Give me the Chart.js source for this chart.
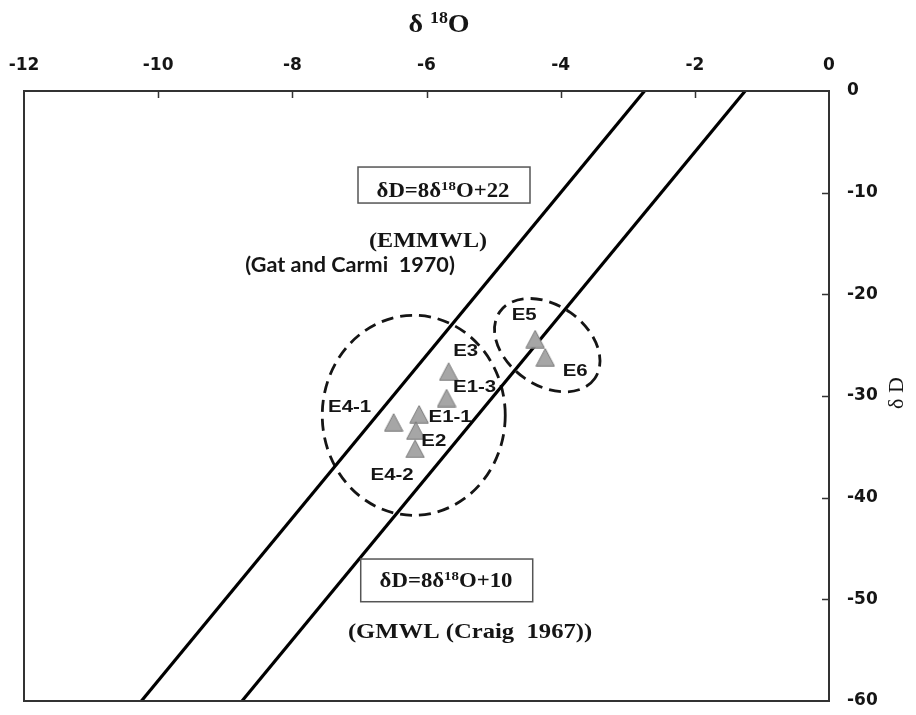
<!DOCTYPE html>
<html>
<head>
<meta charset="utf-8">
<script src="https://cdn.jsdelivr.net/npm/chart.js@4/dist/chart.umd.min.js"></script>
<style>
  html, body { margin: 0; padding: 0; background: #ffffff; }
  #wrap { width: 916px; height: 715px; }
</style>
</head>
<body>
<div id="wrap"><canvas id="chart" width="916" height="715"></canvas></div>
<script>
// Sample points: oxygen-18 and deuterium
const sampleIds = ['E1-1', 'E1-3', 'E2', 'E3', 'E4-1', 'E4-2', 'E5', 'E6'];
const d18O      = [-6.11, -5.70, -6.16, -5.67, -6.49, -6.17, -4.38, -4.23];
const dD        = [-31.8, -30.2, -33.4, -27.6, -32.6, -35.2, -24.4, -26.2];

// Meteoric water lines: dD = slope * d18O + intercept
const lineNames      = ['EMMWL', 'GMWL'];
const lineSlopes     = [8, 8];
const lineIntercepts = [22, 10];

// Axis ranges and tick steps
const xRange = [-12, 0];
const xStep  = 2;
const yRange = [-60, 0];
const yStep  = 10;

// Label placement around each point (pixels)
const labelOffsets = {
  'E1-1': [31, 3], 'E1-3': [28, -11], 'E2': [18, 11], 'E3': [17, -20],
  'E4-1': [-44, -15], 'E4-2': [-23, 26], 'E5': [-11, -23.5], 'E6': [30, 14]
};

// Dashed groupings (centre in data units, radii in pixels)
const groups = [
  { cx: -6.19, cy: -31.9, rx: 91.5, ry: 100, rot: 0 },
  { cx: -4.20, cy: -25.0, rx: 58, ry: 40, rot: 35 }
];

const INK = '#151515';

function triangleMarker() {
  const c = document.createElement('canvas');
  c.width = 20; c.height = 19;
  const g = c.getContext('2d');
  g.beginPath();
  g.moveTo(10, 0.8);
  g.lineTo(19.2, 18.2);
  g.lineTo(0.8, 18.2);
  g.closePath();
  g.fillStyle = '#a6a6a6';
  g.fill();
  g.strokeStyle = '#7a7a7a';
  g.lineWidth = 1;
  g.stroke();
  return c;
}

// draws a run of text pieces (with optional superscripts) centred at cx, baseline y, stretched horizontally
function drawRun(g, parts, cx, baseY, sx) {
  let w = 0;
  parts.forEach(p => { g.font = p.font; w += g.measureText(p.t).width; });
  g.save();
  g.translate(cx, baseY);
  g.scale(sx, 1);
  g.textBaseline = 'alphabetic';
  g.textAlign = 'left';
  let x = -w / 2;
  parts.forEach(p => {
    g.font = p.font;
    g.fillText(p.t, x, p.dy || 0);
    x += g.measureText(p.t).width;
  });
  g.restore();
  return w * sx;
}

const TB = s => 'bold ' + s + 'px "Liberation Serif", "Times New Roman", serif';

const notes = [
  { x: -5.754, y: -10.40, sx: 1.14,
    parts: [{ t: 'δD=8δ', font: TB(20) }, { t: '18', font: TB(13), dy: -7 }, { t: 'O+22', font: TB(20) }],
    box: { dx: -85, dy: -29.7, w: 172, h: 36 } },
  { x: -5.709, y: -48.76, sx: 1.14,
    parts: [{ t: 'δD=8δ', font: TB(20) }, { t: '18', font: TB(13), dy: -7 }, { t: 'O+10', font: TB(20) }],
    box: { dx: -85.3, dy: -27.7, w: 172, h: 42.7 } },
  { x: -5.977, y: -15.37, sx: 1.15, parts: [{ t: '(EMMWL)', font: TB(21) }] },
  { x: -7.14, y: -17.80, sx: 1.03, parts: [{ t: '(Gat and Carmi  1970)', font: 'bold 21px Lato, "Open Sans", sans-serif' }] },
  { x: -5.351, y: -53.80, sx: 1.12, parts: [{ t: '(GMWL (Craig  1967))', font: TB(22) }] }
];

const decor = {
  id: 'decor',
  beforeDatasetsDraw(chart) {
    const g = chart.ctx, xs = chart.scales.x, ys = chart.scales.y;
    g.save();
    g.strokeStyle = INK;
    g.lineWidth = 2.8;
    g.setLineDash([12, 7]);
    groups.forEach(e => {
      g.beginPath();
      g.ellipse(xs.getPixelForValue(e.cx), ys.getPixelForValue(e.cy), e.rx, e.ry, e.rot * Math.PI / 180, 0, Math.PI * 2);
      g.stroke();
    });
    g.restore();
  },
  afterDatasetsDraw(chart) {
    const g = chart.ctx, xs = chart.scales.x, ys = chart.scales.y, a = chart.chartArea;
    g.save();
    // frame
    g.strokeStyle = '#333333';
    g.lineWidth = 2;
    g.strokeRect(a.left, a.top, a.right - a.left, a.bottom - a.top);
    // inward tick marks
    g.lineWidth = 1.5;
    g.beginPath();
    for (let v = xRange[0] + xStep; v < xRange[1]; v += xStep) {
      const px = Math.round(xs.getPixelForValue(v)) + 0.5;
      g.moveTo(px, a.top); g.lineTo(px, a.top + 7);
    }
    for (let v = yRange[0] + yStep; v < yRange[1]; v += yStep) {
      const py = Math.round(ys.getPixelForValue(v)) + 0.5;
      g.moveTo(a.right, py); g.lineTo(a.right - 7, py);
    }
    g.stroke();

    g.fillStyle = INK;
    // notes and boxed equations
    notes.forEach(n => {
      const cx = xs.getPixelForValue(n.x), by = ys.getPixelForValue(n.y);
      if (n.box) {
        g.strokeStyle = '#555555';
        g.lineWidth = 1.5;
        g.strokeRect(cx + n.box.dx, by + n.box.dy, n.box.w, n.box.h);
      }
      drawRun(g, n.parts, cx, by, n.sx);
    });

    // point labels
    g.font = 'bold 17px "Liberation Sans", Arial, sans-serif';
    sampleIds.forEach((id, i) => {
      const px = xs.getPixelForValue(d18O[i]), py = ys.getPixelForValue(dD[i]);
      const o = labelOffsets[id];
      g.save();
      g.translate(px + o[0], py + o[1]);
      g.scale(1.2, 1);
      g.textAlign = 'center';
      g.textBaseline = 'middle';
      g.fillText(id, 0, 0);
      g.restore();
    });

    // axis titles
    drawRun(g, [{ t: 'δ ', font: TB(25) }, { t: '18', font: TB(16), dy: -9 }, { t: 'O', font: TB(25) }], 439, 32, 1.12);
    g.save();
    g.translate(903, 393);
    g.rotate(-Math.PI / 2);
    g.font = '22px "Liberation Serif", "Times New Roman", serif';
    g.textAlign = 'center';
    g.textBaseline = 'alphabetic';
    g.fillText('δ D', 0, 0);
    g.restore();
    g.restore();
  }
};

const marker = triangleMarker();

const lineSets = lineNames.map((name, k) => ({
  type: 'line',
  label: name,
  data: [yRange[1], yRange[0]].map(yv => ({ x: (yv - lineIntercepts[k]) / lineSlopes[k], y: yv })),
  borderColor: '#000000',
  borderWidth: 3.2,
  pointRadius: 0,
  fill: false,
  tension: 0
}));

const pointSet = {
  type: 'scatter',
  label: 'Samples',
  data: sampleIds.map((id, i) => ({ x: d18O[i], y: dD[i] })),
  pointStyle: marker,
  pointRadius: 10,
  pointHoverRadius: 10
};

const tickFont = { family: '"DejaVu Sans", sans-serif', size: 17, weight: 'bold' };

function fixPadding(s) {
  s.paddingLeft = 0; s.paddingRight = 0; s.paddingTop = 0; s.paddingBottom = 0;
}

new Chart(document.getElementById('chart'), {
  type: 'scatter',
  data: { datasets: [pointSet, ...lineSets] },
  options: {
    responsive: false,
    animation: false,
    devicePixelRatio: 1,
    layout: { padding: { left: 24, right: 0, top: 0, bottom: 14 } },
    plugins: { legend: { display: false }, tooltip: { enabled: false } },
    scales: {
      x: {
        type: 'linear', position: 'top', min: xRange[0], max: xRange[1],
        grid: { display: false, drawTicks: false },
        border: { display: false },
        ticks: { stepSize: xStep, padding: 15, color: INK, font: tickFont, maxRotation: 0 },
        afterFit: s => { s.height = 91; fixPadding(s); }
      },
      y: {
        type: 'linear', position: 'right', min: yRange[0], max: yRange[1],
        grid: { display: false, drawTicks: false },
        border: { display: false },
        ticks: { stepSize: yStep, padding: 18, color: INK, font: tickFont },
        afterFit: s => { s.width = 87; fixPadding(s); }
      }
    }
  },
  plugins: [decor]
});
</script>
</body>
</html>
